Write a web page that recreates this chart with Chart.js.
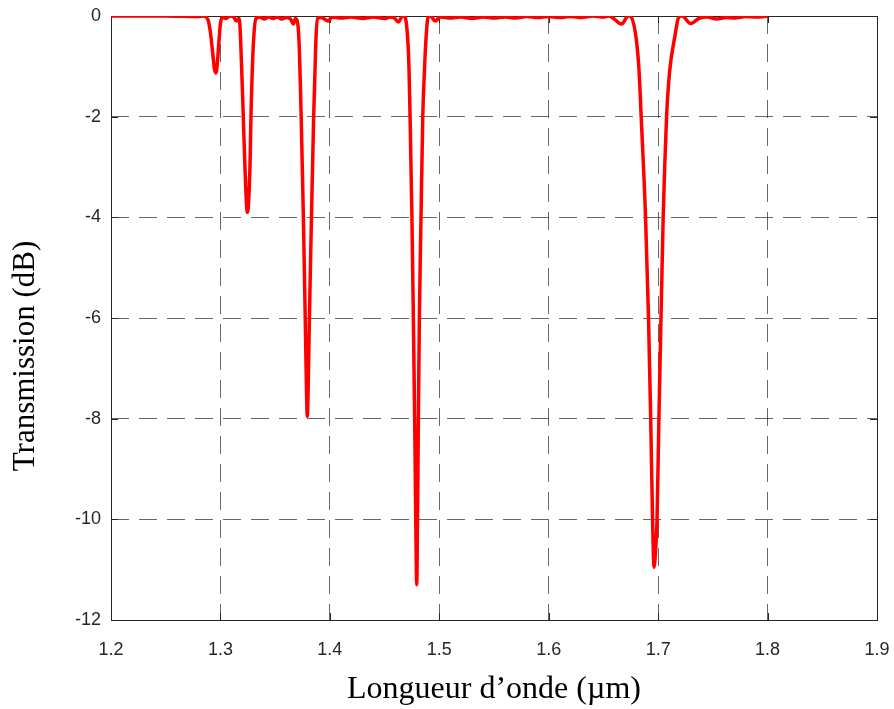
<!DOCTYPE html>
<html>
<head>
<meta charset="utf-8">
<script src="https://cdn.jsdelivr.net/npm/chart.js@4"></script>
<style>
  html, body { margin: 0; padding: 0; background: #fff; }
  #wrap { width: 894px; height: 709px; }
</style>
</head>
<body>
<div id="wrap"><canvas id="chart" width="894" height="709"></canvas></div>
<script>
// spectre de transmission (longueur d'onde en µm, transmission en dB)
const wavelength = [
  1.200, 1.250, 1.280, 1.285,
  1.287, 1.289, 1.291, 1.293, 1.2945, 1.296, 1.2975, 1.299, 1.300, 1.302,
  1.305, 1.309, 1.3125, 1.3145, 1.316,
  1.3172, 1.3185, 1.3209, 1.3224, 1.3246, 1.327, 1.3279, 1.330, 1.3325,
  1.336, 1.340, 1.344, 1.348, 1.352, 1.356, 1.360, 1.364, 1.3667, 1.3685,
  1.370, 1.3718, 1.3738, 1.3758, 1.3775, 1.3787, 1.3794, 1.3801, 1.3813, 1.3832, 1.3852, 1.3872, 1.3888,
  1.392, 1.3985, 1.402, 1.410, 1.420, 1.430, 1.440, 1.450, 1.455, 1.4585, 1.4626, 1.4665,
  1.4681, 1.4711, 1.4724, 1.4733, 1.4750, 1.4763, 1.4775, 1.4785, 1.4794, 1.4801, 1.4809, 1.4818, 1.4833, 1.4849, 1.4864, 1.4879, 1.4900,
  1.4920, 1.4962, 1.501,
  1.510, 1.520, 1.530, 1.540, 1.550, 1.560, 1.570, 1.580, 1.590, 1.600, 1.610, 1.620, 1.630, 1.640, 1.650, 1.655, 1.6668, 1.6725,
  1.6744, 1.6799, 1.6826, 1.6845, 1.6885, 1.6912, 1.6932, 1.6949, 1.6963, 1.6977, 1.6990, 1.7007, 1.7026, 1.7046, 1.7060, 1.7077, 1.7105, 1.7150, 1.7195,
  1.7220, 1.7295, 1.738, 1.745, 1.7536, 1.762, 1.770, 1.780, 1.790, 1.800
];
const transmission = [
  0, 0, -0.01, 0,
  -0.02, -0.1, -0.35, -0.75, -1.05, -1.13, -0.85, -0.4, -0.15, -0.03,
  -0.05, 0, -0.03, -0.1, -0.06,
  -0.05, -0.5, -2, -3, -3.9, -3, -2, -0.6, -0.05,
  -0.02, -0.06, -0.02, -0.05, -0.02, -0.06, -0.03, -0.06, -0.16, -0.05,
  -0.08, -0.5, -2, -4, -6, -7.5, -7.95, -7.5, -6, -4, -2, -0.5, -0.05,
  -0.03, -0.1, -0.02, -0.04, -0.02, -0.05, -0.02, -0.05, -0.02, -0.03, -0.12, 0,
  0, -0.44, -1.1, -2, -4, -6, -8, -10, -11.3, -10, -8, -6, -4, -2, -1.1, -0.44, 0,
  0, -0.1, -0.02,
  -0.04, -0.02, -0.05, -0.02, -0.04, -0.02, -0.04, -0.01, -0.03, -0.01, -0.03, -0.01, -0.03, 0, -0.02, 0, -0.16, 0,
  0, -0.44, -1.1, -2, -4, -6, -8, -10, -10.95, -10.6, -10, -8, -6, -4, -3, -2, -1.1, -0.44, 0,
  0, -0.15, -0.04, -0.02, -0.06, -0.03, -0.04, -0.01, -0.02, 0
];
const xTicks = [1.2, 1.3, 1.4, 1.5, 1.6, 1.7, 1.8, 1.9];
const yTicks = [-12, -10, -8, -6, -4, -2, 0];

const points = wavelength.map((w, i) => ({ x: w, y: transmission[i] }));

// cadre complet + petites graduations intérieures (style MATLAB "box on")
const boxPlugin = {
  id: 'box',
  beforeDatasetsDraw(chart) {
    const { ctx, chartArea: a, scales } = chart;
    const tl = 7;
    ctx.save();
    ctx.strokeStyle = '#262626';
    ctx.lineWidth = 1;
    ctx.strokeRect(a.left + 0.5, a.top + 0.5, a.right - a.left, a.bottom - a.top);
    ctx.beginPath();
    xTicks.forEach(v => {
      const px = Math.round(scales.x.getPixelForValue(v)) + 0.5;
      ctx.moveTo(px, a.bottom); ctx.lineTo(px, a.bottom - tl);
      ctx.moveTo(px, a.top); ctx.lineTo(px, a.top + tl);
    });
    yTicks.forEach(v => {
      const py = Math.round(scales.y.getPixelForValue(v)) + 0.5;
      ctx.moveTo(a.left, py); ctx.lineTo(a.left + tl, py);
      ctx.moveTo(a.right, py); ctx.lineTo(a.right - tl, py);
    });
    ctx.stroke();
    ctx.restore();
  },
  afterDraw(chart) {
    // titre de l'axe y, placé comme sur la figure d'origine
    const { ctx, chartArea: a } = chart;
    ctx.save();
    ctx.translate(26, (a.top + a.bottom) / 2 + 38);
    ctx.rotate(-Math.PI / 2);
    ctx.font = '31px "Liberation Serif", "Times New Roman", serif';
    ctx.fillStyle = '#000';
    ctx.textAlign = 'center';
    ctx.textBaseline = 'middle';
    ctx.fillText('Transmission (dB)', 0, 0);
    ctx.restore();
  }
};

const gridStyle = {
  color: 'rgba(38,38,38,0.7)',
  lineWidth: 1,
  tickLength: 0,
};

new Chart(document.getElementById('chart').getContext('2d'), {
  type: 'line',
  data: {
    datasets: [{
      data: points,
      borderColor: '#ff0000',
      borderWidth: 3.5,
      borderJoinStyle: 'round',
      pointRadius: 0,
      cubicInterpolationMode: 'monotone',
      fill: false,
    }]
  },
  options: {
    responsive: false,
    animation: false,
    devicePixelRatio: 1,
    layout: { padding: { top: 16, right: 17, left: 0, bottom: 0 } },
    plugins: { legend: { display: false }, tooltip: { enabled: false } },
    scales: {
      x: {
        type: 'linear',
        min: 1.2,
        max: 1.9,
        afterFit: (s) => { s.height = 89; s.paddingLeft = 0; s.paddingRight = 0; },
        afterBuildTicks: (s) => { s.ticks = xTicks.map(v => ({ value: v })); },
        grid: gridStyle,
        border: { display: false, dash: [18, 10] },
        ticks: {
          color: '#262626',
          font: { family: 'Liberation Sans, Arial, sans-serif', size: 18 },
          padding: 19,
          maxRotation: 0,
          callback: (v) => v.toFixed(1),
        },
        title: {
          display: true,
          text: 'Longueur d’onde (µm)',
          color: '#000',
          font: { family: 'Liberation Serif, Times New Roman, serif', size: 32 },
          padding: { top: 0, bottom: 0 },
        },
      },
      y: {
        type: 'linear',
        min: -12,
        max: 0,
        afterFit: (s) => { s.width = 111; s.paddingTop = 0; s.paddingBottom = 0; },
        afterBuildTicks: (s) => { s.ticks = yTicks.map(v => ({ value: v })); },
        grid: gridStyle,
        border: { display: false, dash: [18, 10] },
        ticks: {
          color: '#262626',
          font: { family: 'Liberation Sans, Arial, sans-serif', size: 18 },
          padding: 10,
          callback: (v) => String(v),
        },
        title: { display: false },
      },
    },
  },
  plugins: [boxPlugin],
});
</script>
</body>
</html>
